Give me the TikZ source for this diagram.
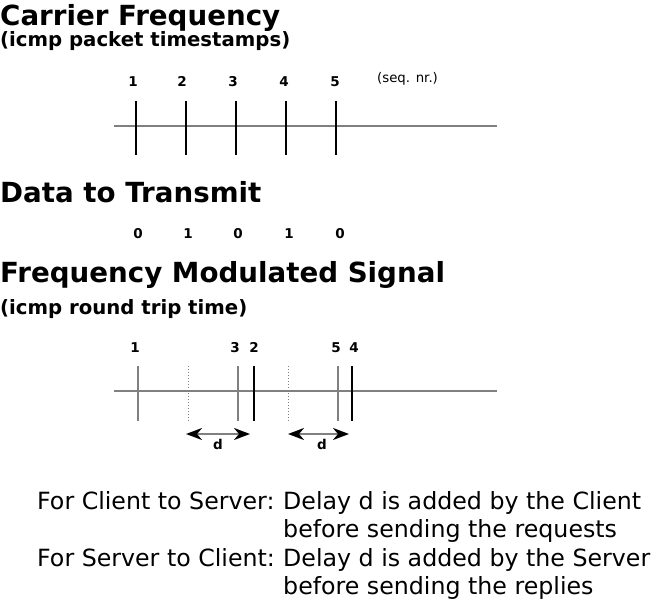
\documentclass[tikz,border=0pt]{standalone}
\usepackage{fontspec}
\setmainfont{DejaVu Sans}
\usetikzlibrary{arrows.meta}

\tikzset{
  heading/.style={anchor=base west, inner sep=0pt, font=\bfseries\fontsize{27.7}{30}\selectfont},
  subheading/.style={anchor=base west, inner sep=0pt, font=\bfseries\fontsize{19.7}{22}\selectfont},
  seqnr/.style={anchor=base, inner sep=0pt, font=\bfseries\fontsize{13.5}{15}\selectfont},
  small/.style={anchor=base west, inner sep=0pt, font=\fontsize{13.3}{15}\selectfont},
  note/.style={anchor=base west, inner sep=0pt, font=\fontsize{23.7}{26}\selectfont},
  axis/.style={gray, line width=1.5pt},
  tick/.style={line width=1.3pt},
  delay/.style={{Stealth[black,length=16pt,width=12pt,inset=5pt]}-{Stealth[black,length=16pt,width=12pt,inset=5pt]}, gray, line width=2.2pt},
}

\begin{document}
\begin{tikzpicture}[x=1pt, y=-1pt]
    \useasboundingbox (0, 0) rectangle (657, 605);

    % carrier
    \node[heading] (carrier) at (0, 25) {Carrier Frequency};
    \node[subheading] (carriersub) at (0, 46) {(icmp packet timestamps)};
    \coordinate (a1) at (114, 126);
    \coordinate (a2) at (497, 126);
    \draw[axis] (a1) -- (a2);
    \foreach \n/\x/\lx in {1/136/133, 2/186/182, 3/236/233, 4/286/284, 5/336/335} {
      \node[seqnr] (c\n) at (\lx, 86) {\n};
      \draw[tick] (\x, 101) -- (\x, 155);
    }
    \node[small] (seq) at (377, 82) {(seq. nr.)};

    % data
    \node[heading] (data) at (0, 202) {Data to Transmit};
    \foreach \n/\b/\x in {1/0/138, 2/1/188, 3/0/238, 4/1/289, 5/0/340} {
      \node[seqnr] (b\n) at (\x, 238) {\b};
    }

    % modulated
    \node[heading] (fm) at (0, 282) {Frequency Modulated Signal};
    \node[subheading] (fmsub) at (0, 314) {(icmp round trip time)};
    \coordinate (m1) at (114, 391);
    \coordinate (m2) at (497, 391);
    \draw[axis] (m1) -- (m2);
    \foreach \n/\x/\lx/\c in {1/138/135/gray, 3/238/235/gray, 2/254/254/black, 5/338/336/gray, 4/352/354/black} {
      \node[seqnr] (s\n) at (\lx, 352) {\n};
      \draw[tick, \c] (\x, 366) -- (\x, 421);
    }
    \draw[gray, dotted, line width=1pt] (188, 366) -- (188, 421);
    \draw[gray, dotted, line width=1pt] (288, 366) -- (288, 421);

    \coordinate (d1s) at (186, 434);
    \coordinate (d1e) at (250, 434);
    \coordinate (d2s) at (288, 434);
    \coordinate (d2e) at (349, 434);
    \draw[delay] (d1s) -- (d1e);
    \draw[delay] (d2s) -- (d2e);
    \node[seqnr] (d1) at (218, 449) {d};
    \node[seqnr] (d2) at (322, 449) {d};

    % notes
    \node[note] (cs) at (37, 509) {For Client to Server:};
    \node[note] (csa) at (283, 509) {Delay d is added by the Client};
    \node[note] (csb) at (283, 537) {before sending the requests};
    \node[note] (sc) at (37, 566) {For Server to Client:};
    \node[note] (sca) at (283, 566) {Delay d is added by the Server};
    \node[note] (scb) at (283, 594) {before sending the replies};
\end{tikzpicture}
\end{document}
